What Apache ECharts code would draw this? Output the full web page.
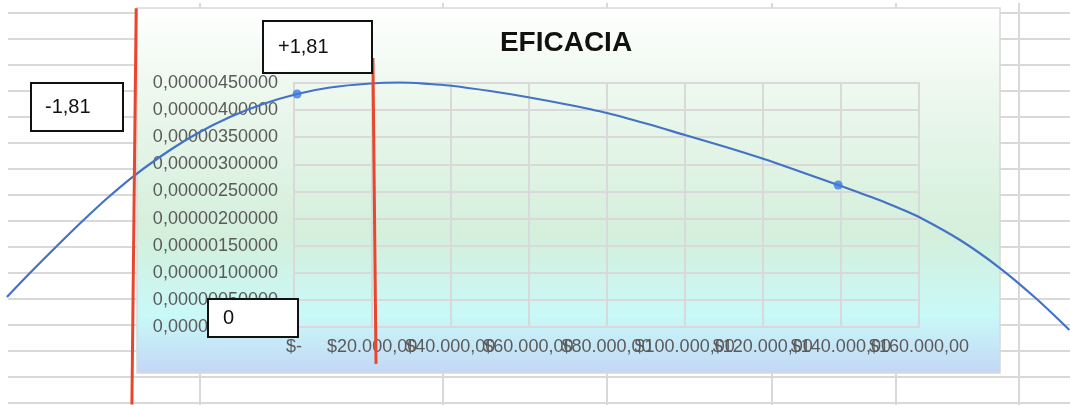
<!DOCTYPE html>
<html>
<head>
<meta charset="utf-8">
<title>EFICACIA</title>
<script src="https://cdn.jsdelivr.net/npm/echarts@6/dist/echarts.min.js"></script>
<style>
  html, body { margin: 0; padding: 0; background: #ffffff; }
  #chart { width: 1070px; height: 405px; }
</style>
</head>
<body>
<div id="chart"></div>
<script>
// Axis tick labels
const xTickLabels = ['$-', '$20.000,00', '$40.000,00', '$60.000,00', '$80.000,00',
  '$100.000,00', '$120.000,00', '$140.000,00', '$160.000,00'];
const yTickLabels = ['0,00000000000', '0,00000050000', '0,00000100000', '0,00000150000',
  '0,00000200000', '0,00000250000', '0,00000300000', '0,00000350000',
  '0,00000400000', '0,00000450000'];

// Efficacy curve (cost vs. density); it runs past both ends of the plot
const curveX = [-73500, -67600, -60700, -54800, -47900, -40700, -31700, -24800, -16400,
  -7900, 800, 9200, 19500, 27100, 34800, 39700, 50200, 59600, 69900, 80100,
  90100, 100100, 110100, 120300, 129500, 139300, 149800, 155100, 160000,
  170500, 180700, 189700, 198500];
const curveY = [0.553e-6, 0.996e-6, 1.494e-6, 1.909e-6, 2.370e-6, 2.803e-6, 3.264e-6, 3.569e-6, 3.873e-6,
  4.113e-6, 4.297e-6, 4.417e-6, 4.491e-6, 4.509e-6, 4.482e-6, 4.454e-6, 4.352e-6, 4.242e-6, 4.103e-6, 3.947e-6,
  3.753e-6, 3.541e-6, 3.329e-6, 3.098e-6, 2.868e-6, 2.619e-6, 2.342e-6, 2.185e-6, 2.029e-6,
  1.604e-6, 1.088e-6, 0.544e-6, -0.055e-6];

// Observed points
const sampleX = [800, 139300];
const sampleY = [4.297e-6, 2.619e-6];

// Limits at -1,81 and +1,81
const lowerLimitX = [-40400, -41500];
const lowerLimitY = [5.88e-6, -1.43e-6];
const upperLimitX = [20200, 21000];
const upperLimitY = [4.96e-6, -0.68e-6];

const limitLabels = ['-1,81', '+1,81', '0'];

const zip = (a, b) => a.map((v, i) => [v, b[i]]);

const FONT = '"Liberation Sans", Arial, sans-serif';

// Plot frame in pixels, and the same scale carried over the whole page
const PLOT = { left: 294, top: 83, width: 625, height: 244 };
const X_MAX = 160000, Y_MAX = 4.5e-6;
const W = 1070, H = 405;
const xPerPx = X_MAX / PLOT.width;
const yPerPx = Y_MAX / PLOT.height;
const pageX = [-PLOT.left * xPerPx, (W - PLOT.left) * xPerPx];
const pageY = [-(H - PLOT.top - PLOT.height) * yPerPx, (PLOT.top + PLOT.height) * yPerPx];

// Worksheet cell grid behind the chart
const sheet = [];
for (let k = 0; k <= 15; k++) {
  const y = 13 + 26 * k;
  sheet.push({ type: 'line', silent: true, z: 0,
    shape: { x1: 8, y1: y, x2: W, y2: y },
    style: { stroke: '#d9d9d9', lineWidth: 2 } });
}
[200, 443, 607, 772, 896, 1019].forEach(x => {
  sheet.push({ type: 'line', silent: true, z: 0,
    shape: { x1: x, y1: 3, x2: x, y2: H },
    style: { stroke: '#d9d9d9', lineWidth: 2 } });
});

// Chart area with its gradient fill
sheet.push({
  type: 'rect', silent: true, z: 1,
  shape: { x: 137, y: 8, width: 863, height: 365 },
  style: {
    fill: new echarts.graphic.LinearGradient(0, 0, 0, 1, [
      { offset: 0, color: '#ffffff' },
      { offset: 0.22, color: '#eef8ef' },
      { offset: 0.62, color: '#d4efdb' },
      { offset: 0.84, color: '#c9f9f8' },
      { offset: 1, color: '#c3d6f6' }
    ]),
    stroke: '#d9d9d9', lineWidth: 1.5
  }
});

function labelBox(x, y, w, h, text, tx) {
  return {
    type: 'group', z: 30,
    children: [
      { type: 'rect', z: 30, shape: { x: x, y: y, width: w, height: h },
        style: { fill: '#ffffff', stroke: '#111111', lineWidth: 2 } },
      { type: 'text', z: 31, x: tx, y: y + h / 2,
        style: { text: text, fill: '#111111', font: '20px ' + FONT,
          textVerticalAlign: 'middle', verticalAlign: 'middle' } }
    ]
  };
}

const labelStyle = { color: '#5a5a5a', fontFamily: FONT, fontSize: 18 };
const gridLine = { color: '#d9d9d9', width: 2 };

const chart = echarts.init(document.getElementById('chart'), null, { renderer: 'canvas' });

chart.setOption({
  animation: false,
  backgroundColor: '#ffffff',
  title: {
    text: 'EFICACIA',
    left: 561, top: 24, textAlign: 'center', z: 10,
    textStyle: { fontFamily: FONT, fontSize: 28, fontWeight: 'bold', color: '#111111' }
  },
  grid: [
    {
      left: PLOT.left, top: PLOT.top, width: PLOT.width, height: PLOT.height,
      show: true, borderColor: '#d9d9d9', borderWidth: 2, backgroundColor: 'transparent', z: 3
    },
    { left: 0, top: 0, width: W, height: H, show: false }
  ],
  xAxis: [
    {
      type: 'value', gridIndex: 0, min: 0, max: X_MAX, interval: 20000, z: 3,
      axisLine: { show: true, lineStyle: gridLine },
      axisTick: { show: false },
      splitLine: { show: true, lineStyle: gridLine },
      axisLabel: Object.assign({
        margin: 11, hideOverlap: false, showMinLabel: true, showMaxLabel: false,
        formatter: v => xTickLabels[Math.round(v / 20000)]
      }, labelStyle)
    },
    {
      // carries the last tick label so it never hides its neighbour
      type: 'value', gridIndex: 0, position: 'bottom', min: 0, max: X_MAX, z: 3,
      axisLine: { show: false }, axisTick: { show: false }, splitLine: { show: false },
      axisLabel: Object.assign({
        margin: 11, customValues: [X_MAX], showMaxLabel: true,
        formatter: v => xTickLabels[Math.round(v / 20000)]
      }, labelStyle)
    },
    {
      type: 'value', gridIndex: 1, show: false, min: pageX[0], max: pageX[1],
      splitLine: { show: false }
    }
  ],
  yAxis: [
    {
      type: 'value', gridIndex: 0, min: 0, max: Y_MAX, interval: 0.5e-6, z: 3,
      axisLine: { show: true, lineStyle: gridLine },
      axisTick: { show: false },
      splitLine: { show: true, lineStyle: gridLine },
      axisLabel: Object.assign({
        margin: 16, showMinLabel: true, showMaxLabel: true,
        formatter: v => yTickLabels[Math.round(v / 0.5e-6)]
      }, labelStyle)
    },
    {
      type: 'value', gridIndex: 1, show: false, min: pageY[0], max: pageY[1],
      splitLine: { show: false }
    }
  ],
  graphic: sheet.concat([
    labelBox(31, 83, 92, 48, limitLabels[0], 45),
    labelBox(263, 21, 109, 52, limitLabels[1], 278),
    labelBox(208, 299, 90, 38, limitLabels[2], 223)
  ]),
  series: [
    {
      name: 'EFICACIA', type: 'line', xAxisIndex: 2, yAxisIndex: 1, z: 6,
      data: zip(curveX, curveY),
      smooth: 0.3, showSymbol: false,
      lineStyle: { color: '#4472c4', width: 2.2 }
    },
    {
      type: 'scatter', xAxisIndex: 0, yAxisIndex: 0, z: 7,
      data: zip(sampleX, sampleY),
      symbol: 'circle', symbolSize: 9,
      itemStyle: { color: '#3d7be0' }
    },
    {
      type: 'line', xAxisIndex: 2, yAxisIndex: 1, z: 8, showSymbol: false,
      data: zip(lowerLimitX, lowerLimitY),
      lineStyle: { color: '#e8462f', width: 3 }
    },
    {
      type: 'line', xAxisIndex: 2, yAxisIndex: 1, z: 8, showSymbol: false,
      data: zip(upperLimitX, upperLimitY),
      lineStyle: { color: '#e8462f', width: 3 }
    }
  ]
});
</script>
</body>
</html>
